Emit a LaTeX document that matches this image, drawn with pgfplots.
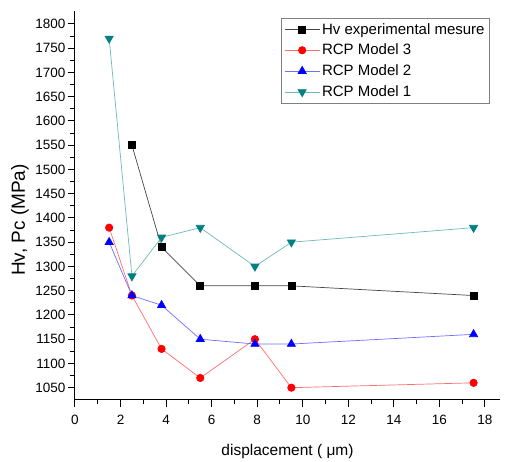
\documentclass[border=0pt]{standalone}
\usepackage{pgfplots}
\pgfplotsset{compat=1.18}
\usetikzlibrary{calc}
\usepackage{fontspec}
\setmainfont{Liberation Sans}
\definecolor{tealm}{RGB}{0,128,128}
\definecolor{teall}{RGB}{110,185,185}
\definecolor{redl}{RGB}{255,110,110}
\definecolor{bluel}{RGB}{110,110,255}
\definecolor{grayl}{RGB}{70,70,70}
\begin{document}
\begin{tikzpicture}
\begin{axis}[
  name=ax,
  scale only axis,
  width=425pt, height=389pt,
  xmin=0, xmax=18.66, ymin=1024.6, ymax=1826.8,
  axis x line=bottom, axis y line=left,
  axis line style={-, line width=1pt},
  tick align=outside,
  major tick length=7pt, minor tick length=4.5pt,
  tick style={line width=1pt, black},
  xtick={0,2,...,18}, minor x tick num=1,
  ytick={1050,1100,...,1800}, minor y tick num=1,
  /pgf/number format/assume math mode=true,
  /pgf/number format/1000 sep={},
  ticklabel style={font=\fontsize{13.5}{15}\selectfont},
  xticklabel style={yshift=-5pt},
  yticklabel style={xshift=1pt},
  xlabel={displacement ( μm)},
  ylabel={Hv, Pc (MPa)},
  xlabel style={font=\fontsize{15.5}{17}\selectfont, yshift=-12pt},
  ylabel style={font=\fontsize{19}{21}\selectfont, at={(axis description cs:-0.1294,0.4627)}, anchor=center, rotate=0},
  legend style={at={(0.976,0.982)}, anchor=north east, draw=gray, font=\fontsize{15}{17}\selectfont, row sep=4.5pt, inner sep=3pt},
  legend cell align=left,
  legend image code/.code={
    \draw[#1] (0pt,0pt) -- (35pt,0pt);
    \draw[#1, only marks] plot coordinates {(17.5pt,0pt)};
  },
  every axis plot/.append style={line width=0.7pt},
]
\addplot[grayl, mark=square*, mark size=3.5pt, mark options={fill=black, draw=black, solid}]
  coordinates {(2.5,1550) (3.8,1340) (5.5,1260) (7.9,1260) (9.5,1260) (17.5,1240)};
\addlegendentry{Hv experimental mesure}
\addplot[redl, mark=*, mark size=3.7pt, mark options={fill=red, draw=red}]
  coordinates {(1.5,1380) (2.5,1240) (3.8,1130) (5.5,1070) (7.9,1150) (9.5,1050) (17.5,1060)};
\addlegendentry{RCP Model 3}
\addplot[bluel, mark=triangle*, mark size=4.7pt, mark options={fill=blue, draw=blue}]
  coordinates {(1.5,1350) (2.5,1240) (3.8,1220) (5.5,1150) (7.9,1140) (9.5,1140) (17.5,1160)};
\addlegendentry{RCP Model 2}
\addplot[teall, mark=triangle*, mark size=4.7pt, mark options={fill=tealm, draw=tealm, rotate=180}]
  coordinates {(1.5,1770) (2.5,1280) (3.8,1360) (5.5,1380) (7.9,1300) (9.5,1350) (17.5,1380)};
\addlegendentry{RCP Model 1}
\end{axis}
\path[use as bounding box] ($(ax.south west)+(-75pt,-61pt)$) rectangle ($(ax.north east)+(7pt,11pt)$);
\end{tikzpicture}
\end{document}
